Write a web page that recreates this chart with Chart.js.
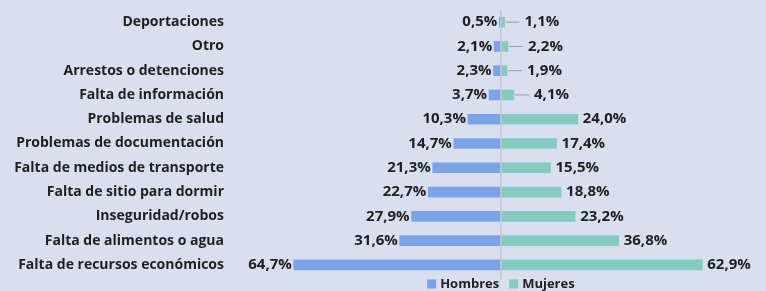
<!DOCTYPE html>
<html lang="es">
<head>
<meta charset="UTF-8">
<title>Dificultades por sexo</title>
<script src="https://cdn.jsdelivr.net/npm/chart.js"></script>
<style>
  html, body { margin: 0; padding: 0; background: #dadff0; }
  #wrap { width: 766px; height: 291px; }
</style>
</head>
<body>
<div id="wrap"><canvas id="chart"></canvas></div>
<script>
const categories = ['Deportaciones', 'Otro', 'Arrestos o detenciones', 'Falta de información',
  'Problemas de salud', 'Problemas de documentación', 'Falta de medios de transporte',
  'Falta de sitio para dormir', 'Inseguridad/robos', 'Falta de alimentos o agua',
  'Falta de recursos económicos'];
const hombres = [0.5, 2.1, 2.3, 3.7, 10.3, 14.7, 21.3, 22.7, 27.9, 31.6, 64.7];
const mujeres = [1.1, 2.2, 1.9, 4.1, 24.0, 17.4, 15.5, 18.8, 23.2, 36.8, 62.9];
const seriesNames = ['Hombres', 'Mujeres'];

const BG = '#dadff0';
const TEXT = '#1f1f1f';
const FAMILY = '"Open Sans"';
const VALUE_FONT = 'bold 15px ' + FAMILY;
const LEGEND_FONT = 'bold 13px ' + FAMILY;

function fmt(v) {
  return Math.abs(v).toFixed(1).replace('.', ',') + '%';
}

// labels, center line and legend
const extras = {
  id: 'extras',
  beforeDraw(chart) {
    const ctx = chart.ctx;
    ctx.save();
    ctx.fillStyle = BG;
    ctx.fillRect(0, 0, chart.width, chart.height);
    ctx.restore();
  },
  afterDatasetsDraw(chart) {
    const ctx = chart.ctx;
    const area = chart.chartArea;
    const x0 = chart.scales.x.getPixelForValue(0);
    ctx.save();
    ctx.strokeStyle = '#c5c8d6';
    ctx.lineWidth = 1.5;
    ctx.beginPath();
    ctx.moveTo(x0, area.top);
    ctx.lineTo(x0, area.bottom + 2);
    ctx.stroke();

    ctx.font = VALUE_FONT;
    ctx.fillStyle = TEXT;
    ctx.textBaseline = 'middle';
    chart.data.datasets.forEach((ds, di) => {
      chart.getDatasetMeta(di).data.forEach((bar, i) => {
        const v = Math.abs(ds.data[i]);
        const txt = fmt(v);
        if (di === 0) {
          ctx.textAlign = 'right';
          ctx.fillText(txt, bar.x - 2, bar.y);
        } else {
          let tx = bar.x + 5;
          if (v < 5) {
            tx = bar.x + 20;
            ctx.strokeStyle = '#9a9aa2';
            ctx.lineWidth = 1;
            ctx.beginPath();
            ctx.moveTo(bar.x + 1, bar.y);
            ctx.lineTo(tx - 5, bar.y);
            ctx.stroke();
          }
          ctx.textAlign = 'left';
          ctx.fillText(txt, tx, bar.y);
        }
      });
    });
    ctx.restore();
  },
  afterDraw(chart) {
    const ctx = chart.ctx;
    const x0 = chart.scales.x.getPixelForValue(0);
    const y = chart.height - 7;
    ctx.save();
    ctx.font = LEGEND_FONT;
    ctx.textBaseline = 'middle';
    ctx.textAlign = 'left';
    const box = 9, gap = 4, spacing = 10;
    const items = chart.data.datasets.map(ds => ({
      text: ds.label, color: ds.backgroundColor, w: ctx.measureText(ds.label).width
    }));
    let total = items.reduce((s, it) => s + box + gap + it.w, 0) + spacing * (items.length - 1);
    let x = x0 - total / 2;
    items.forEach(it => {
      ctx.fillStyle = it.color;
      ctx.fillRect(x, y - box / 2, box, box);
      ctx.fillStyle = TEXT;
      ctx.fillText(it.text, x + box + gap, y);
      x += box + gap + it.w + spacing;
    });
    ctx.restore();
  }
};

new Chart(document.getElementById('chart'), {
  type: 'bar',
  data: {
    labels: categories,
    datasets: [
      {
        label: seriesNames[0],
        data: hombres.map(v => -v),
        backgroundColor: '#7ba3e8',
        barThickness: 10
      },
      {
        label: seriesNames[1],
        data: mujeres,
        backgroundColor: '#85cbc0',
        barThickness: 10
      }
    ]
  },
  options: {
    indexAxis: 'y',
    responsive: true,
    maintainAspectRatio: false,
    animation: false,
    layout: { autoPadding: false, padding: { top: 10, bottom: 14, left: 0, right: 9 } },
    plugins: {
      legend: { display: false },
      tooltip: { enabled: false }
    },
    scales: {
      x: {
        stacked: true,
        min: -84,
        max: 80,
        display: false
      },
      y: {
        stacked: true,
        grid: { display: false, drawTicks: false },
        border: { display: false },
        ticks: {
          color: TEXT,
          font: { family: FAMILY, weight: 'bold', size: 14 },
          padding: 8
        },
        afterFit(scale) {
          scale.width = 232;
          scale.paddingTop = 0;
          scale.paddingBottom = 0;
        }
      }
    }
  },
  plugins: [extras]
});
</script>
</body>
</html>
